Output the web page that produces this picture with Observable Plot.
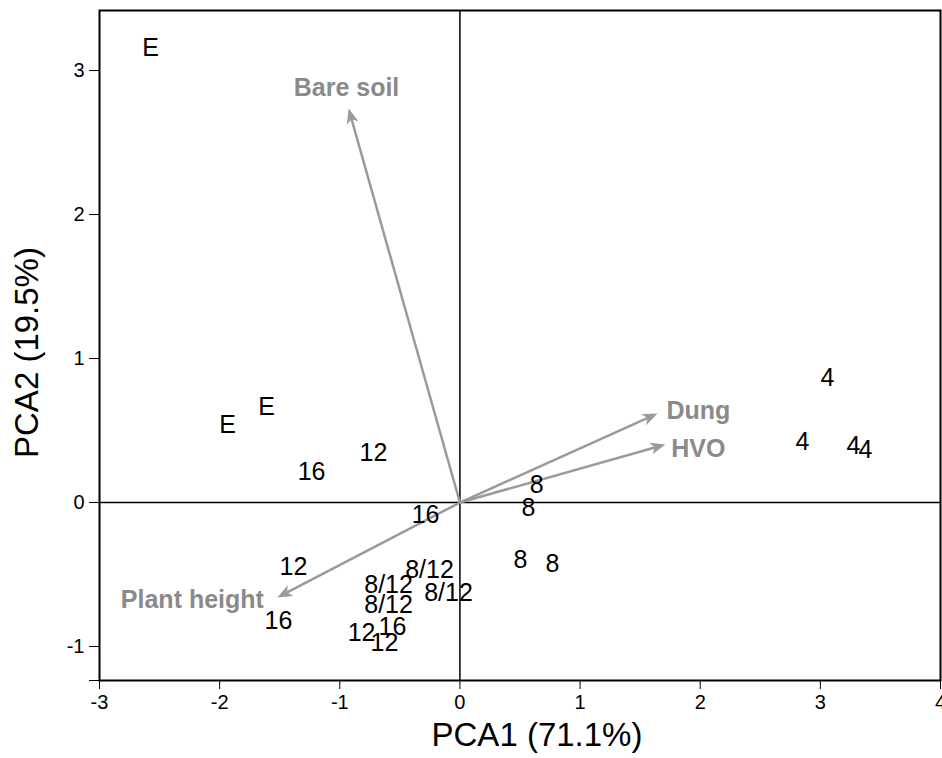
<!DOCTYPE html>
<html>
<head>
<meta charset="utf-8">
<script src="https://cdn.jsdelivr.net/npm/d3@7"></script>
<script src="https://cdn.jsdelivr.net/npm/@observablehq/plot@0.6"></script>
<style>
  html, body { margin: 0; padding: 0; background: #fff; }
  #chart { width: 942px; height: 758px; overflow: hidden; }
</style>
</head>
<body>
<div id="chart"></div>
<script>
// Sample scores (labels = treatment / group)
const groupLabels = ["E","E","E","16","12","16","12","16","8/12","8/12","8/12","8/12","12","16","12","8","8","8","8","4","4","4","4"];
const pc1 = [-2.575,-1.934,-1.61,-1.235,-0.72,-0.286,-1.385,-1.51,-0.253,-0.594,-0.095,-0.594,-0.819,-0.561,-0.628,0.638,0.571,0.504,0.771,3.06,2.85,3.275,3.375];
const pc2 = [3.16,0.535,0.66,0.215,0.347,-0.09,-0.45,-0.826,-0.472,-0.576,-0.625,-0.715,-0.903,-0.861,-0.979,0.125,-0.035,-0.396,-0.424,0.868,0.417,0.396,0.368];

// Variable loadings (arrows)
const vectorNames = ["Bare soil","Dung","HVO","Plant height"];
const vecX = [-0.927, 1.644, 1.71, -1.52];
const vecY = [2.736, 0.618, 0.403, -0.66];
const vecLabelX = [-0.944, 1.985, 1.985, -2.227];
const vecLabelY = [2.88, 0.639, 0.375, -0.674];

// Axis settings
const xDomain = [-3, 4];
const yDomain = [-1.236, 3.417];
const xTicks = [-3, -2, -1, 0, 1, 2, 3, 4];
const yTicks = [-1.236, -1, 0, 1, 2, 3];
const xTitle = "PCA1 (71.1%)";
const yTitle = "PCA2 (19.5%)";

const points = groupLabels.map((l, i) => ({label: l, x: pc1[i], y: pc2[i]}));
const vectors = vectorNames.map((n, i) => ({name: n, x: vecX[i], y: vecY[i], lx: vecLabelX[i], ly: vecLabelY[i], ox: 0, oy: 0}));

const arrowGray = "#9a9a9a";
const labelGray = "#8a8a8a";
const font = "'Liberation Sans', Arial, Helvetica, sans-serif";

function build(extraMarks, linkData) {
  return Plot.plot({
    width: 942,
    height: 758,
    marginLeft: 99,
    marginRight: 2,
    marginTop: 10,
    marginBottom: 78,
    style: {fontFamily: font, fontSize: "20px", color: "black", background: "white", overflow: "visible"},
    x: {domain: xDomain, ticks: xTicks, tickSize: 9, tickPadding: 5, label: null, tickFormat: d => String(d)},
    y: {domain: yDomain, ticks: yTicks, tickSize: 10, tickPadding: 5, label: null,
        tickFormat: d => Number.isInteger(d) ? String(d) : ""},
    marks: [
      Plot.ruleX([0], {stroke: "black", strokeWidth: 1.5}),
      Plot.ruleY([0], {stroke: "black", strokeWidth: 1.5}),
      Plot.frame({stroke: "black", strokeWidth: 2}),
      Plot.link(linkData, {x1: "ox", y1: "oy", x2: "ex", y2: "ey", stroke: arrowGray, strokeWidth: 2.5}),
      ...extraMarks,
      Plot.text(points, {x: "x", y: "y", text: "label", fontSize: 25, fill: "black"}),
      Plot.text(vectors, {x: "lx", y: "ly", text: "name", fontSize: 25, fontWeight: "bold", fill: labelGray}),
      Plot.text([xTitle], {frameAnchor: "bottom", textAnchor: "middle", dy: 65, dx: 17, fontSize: 33, fill: "black"}),
      Plot.text([yTitle], {frameAnchor: "left", textAnchor: "middle", rotate: -90, dx: -72, dy: 7, fontSize: 33, fill: "black"})
    ]
  });
}

// First pass: get the scales to orient arrowheads on screen
const base = build([], vectors.map(v => ({...v, ex: v.x, ey: v.y})));
const xs = base.scale("x"), ys = base.scale("y");

const headLen = 15, headHalf = 6, notch = 11;
const linkData = [];
const headMarks = [];
vectors.forEach(v => {
  const px0 = xs.apply(0), py0 = ys.apply(0);
  const px = xs.apply(v.x), py = ys.apply(v.y);
  const dx = px - px0, dy = py - py0;
  const len = Math.hypot(dx, dy);
  const ux = dx / len, uy = dy / len;
  // shaft ends inside the head
  const ex = xs.invert(px - ux * (notch - 1));
  const ey = ys.invert(py - uy * (notch - 1));
  linkData.push({...v, ex, ey});
  // arrowhead symbol, apex at origin pointing along (ux, uy)
  const nx = -uy, ny = ux;
  const pt = (a, b) => [a * ux + b * nx, a * uy + b * ny];
  const symbol = {
    draw(ctx) {
      const p0 = pt(0, 0);
      const p1 = pt(-headLen, headHalf);
      const p2 = pt(-notch, 0);
      const p3 = pt(-headLen, -headHalf);
      ctx.moveTo(p0[0], p0[1]);
      ctx.lineTo(p1[0], p1[1]);
      ctx.lineTo(p2[0], p2[1]);
      ctx.lineTo(p3[0], p3[1]);
      ctx.closePath();
    }
  };
  headMarks.push(Plot.dot([v], {x: "x", y: "y", symbol, r: 5, fill: arrowGray, stroke: "none"}));
});

const chart = build(headMarks, linkData);
document.getElementById("chart").appendChild(chart);
</script>
</body>
</html>
